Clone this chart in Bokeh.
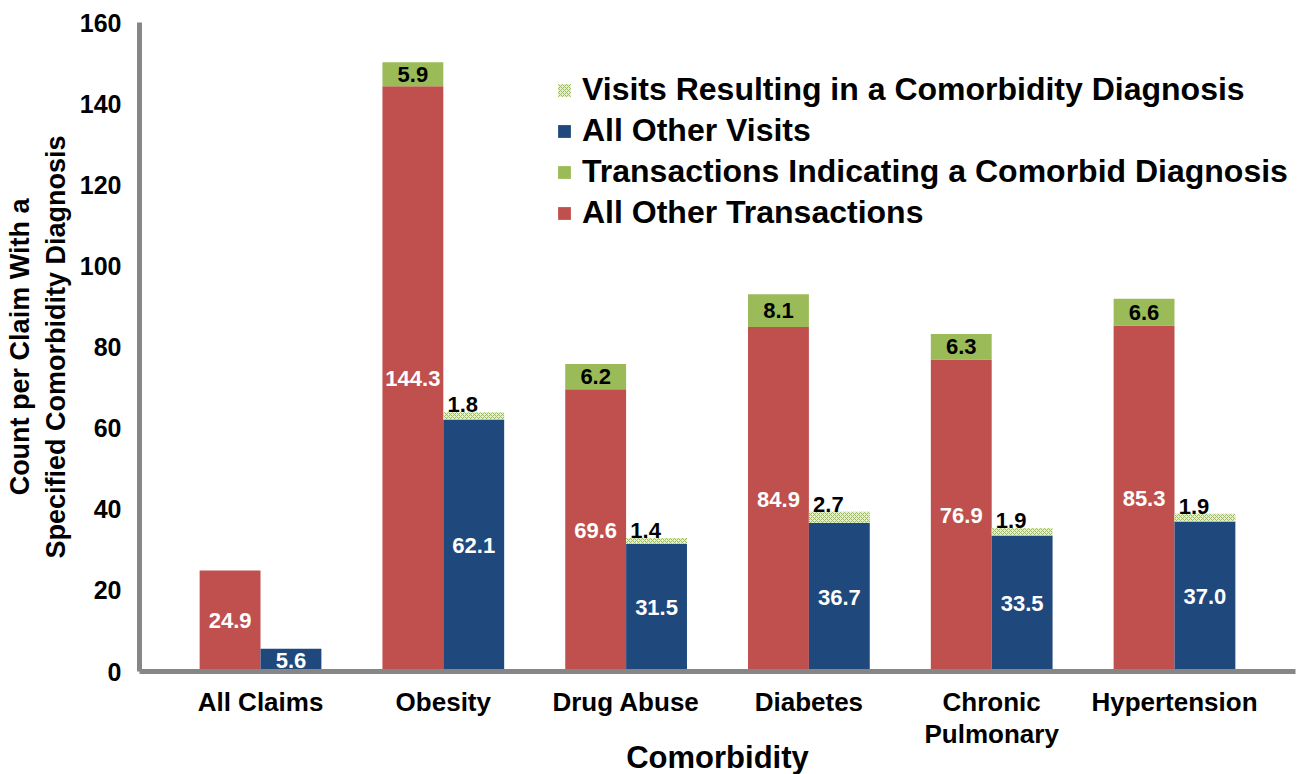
from bokeh.plotting import figure
from bokeh.models import ColumnDataSource, FixedTicker, Legend, LegendItem, Range1d
from bokeh.core.properties import value
from bokeh.embed import file_html
from bokeh.resources import INLINE

categories = ["All Claims", "Obesity", "Drug Abuse", "Diabetes", "Chronic\nPulmonary", "Hypertension"]
other_transactions = [24.9, 144.3, 69.6, 84.9, 76.9, 85.3]
comorbid_transactions = [0.0, 5.9, 6.2, 8.1, 6.3, 6.6]
other_visits = [5.6, 62.1, 31.5, 36.7, 33.5, 37.0]
comorbid_visits = [0.0, 1.8, 1.4, 2.7, 1.9, 1.9]
y_ticks = [0, 20, 40, 60, 80, 100, 120, 140, 160]

RED = "#C0504D"
BLUE = "#1F497D"
GREEN = "#9BBB59"
FONT = "Liberation Sans"

n = len(categories)
xs = list(range(n))
bw = 0.333
red_x = [i - bw / 2 for i in xs]
blue_x = [i + bw / 2 for i in xs]

src = ColumnDataSource(dict(
    rx=red_x, bx=blue_x,
    ot=other_transactions, ct=comorbid_transactions,
    ov=other_visits, cv=comorbid_visits,
    ot_top=[a + b for a, b in zip(other_transactions, comorbid_transactions)],
    ov_top=[a + b for a, b in zip(other_visits, comorbid_visits)],
))

p = figure(frame_width=1156, frame_height=649,
           min_border_left=139, min_border_right=4, min_border_top=22, min_border_bottom=103,
           x_range=Range1d(-0.662, 5.662), y_range=Range1d(0, 160),
           output_backend="svg", toolbar_location=None, tools="")
p.outline_line_color = None
p.xgrid.visible = False
p.ygrid.visible = False

r_red = p.vbar(x="rx", width=bw, bottom=0, top="ot", source=src, fill_color=RED, line_color=None)
r_green = p.vbar(x="rx", width=bw, bottom="ot", top="ot_top", source=src, fill_color=GREEN, line_color=None)
r_blue = p.vbar(x="bx", width=bw, bottom=0, top="ov", source=src, fill_color=BLUE, line_color=None)
r_hatch = p.vbar(x="bx", width=bw, bottom="ov", top="ov_top", source=src, fill_color="#e6efd6",
                 hatch_pattern="diagonal_cross", hatch_color=GREEN, hatch_scale=4, hatch_weight=1,
                 line_color=None)


def fmt(v):
    return f"{v:.1f}"


LBL = "22px"
lab_red = ColumnDataSource(dict(x=red_x, y=[v / 2 for v in other_transactions],
                                t=[fmt(v) for v in other_transactions]))
p.text(x="x", y="y", text="t", source=lab_red, text_color="white", text_font=value(FONT),
       text_font_style="bold", text_font_size=LBL, text_align="center", text_baseline="middle")
lab_blue = ColumnDataSource(dict(x=blue_x, y=[v / 2 for v in other_visits],
                                 t=[fmt(v) for v in other_visits]))
p.text(x="x", y="y", text="t", source=lab_blue, text_color="white", text_font=value(FONT),
       text_font_style="bold", text_font_size=LBL, text_align="center", text_baseline="middle")

gi = [i for i in xs if comorbid_transactions[i] > 0]
lab_green = ColumnDataSource(dict(x=[red_x[i] for i in gi],
                                  y=[other_transactions[i] + comorbid_transactions[i] / 2 for i in gi],
                                  t=[fmt(comorbid_transactions[i]) for i in gi]))
p.text(x="x", y="y", text="t", source=lab_green, text_color="black", text_font=value(FONT),
       text_font_style="bold", text_font_size=LBL, text_align="center", text_baseline="middle")
hi = [i for i in xs if comorbid_visits[i] > 0]
lab_hatch = ColumnDataSource(dict(x=[blue_x[i] - 0.06 for i in hi],
                                  y=[other_visits[i] + comorbid_visits[i] for i in hi],
                                  t=[fmt(comorbid_visits[i]) for i in hi]))
p.text(x="x", y="y", text="t", source=lab_hatch, text_color="black", text_font=value(FONT),
       text_font_style="bold", text_font_size=LBL, text_align="center", text_baseline="bottom")

for ax in (p.xaxis[0], p.yaxis[0]):
    ax.axis_line_color = "#868686"
    ax.axis_line_width = 5
    ax.major_tick_line_color = None
    ax.minor_tick_line_color = None
    ax.major_tick_out = 0
    ax.major_tick_in = 0
    ax.minor_tick_out = 0
    ax.minor_tick_in = 0
    ax.major_label_text_font = FONT
    ax.major_label_text_font_style = "bold"
    ax.major_label_text_color = "black"
    ax.axis_label_text_font = FONT
    ax.axis_label_text_font_style = "bold"
    ax.axis_label_text_color = "black"

p.xaxis.ticker = FixedTicker(ticks=xs)
p.xaxis.major_label_overrides = {i: c for i, c in zip(xs, categories)}
p.xaxis.major_label_text_font_size = "26px"
p.xaxis.major_label_text_line_height = 1.07
p.xaxis.major_label_standoff = 15
p.xaxis.axis_label = "Comorbidity"
p.xaxis.axis_label_text_font_size = "31px"
p.xaxis.axis_label_standoff = -12

p.yaxis.ticker = FixedTicker(ticks=y_ticks)
p.yaxis.major_label_text_font_size = "25px"
p.yaxis.major_label_standoff = 18
p.yaxis.axis_label = "Count per Claim With a\nSpecified Comorbidity Diagnosis"
p.yaxis.axis_label_text_font_size = "27px"
p.yaxis.axis_label_standoff = 6

legend = Legend(items=[
    LegendItem(label="Visits Resulting in a Comorbidity Diagnosis", renderers=[r_hatch]),
    LegendItem(label="All Other Visits", renderers=[r_blue]),
    LegendItem(label="Transactions Indicating a Comorbid Diagnosis", renderers=[r_green]),
    LegendItem(label="All Other Transactions", renderers=[r_red]),
], location=(417, 438))
legend.label_text_font = FONT
legend.label_text_font_style = "bold"
legend.label_text_font_size = "32px"
legend.label_text_color = "black"
legend.glyph_width = 16
legend.glyph_height = 16
legend.label_height = 41
legend.spacing = 0
legend.padding = 0
legend.margin = 0
legend.label_standoff = 10
legend.border_line_color = None
legend.background_fill_alpha = 0
p.add_layout(legend)

open("out.html", "w").write(file_html(p, INLINE))
